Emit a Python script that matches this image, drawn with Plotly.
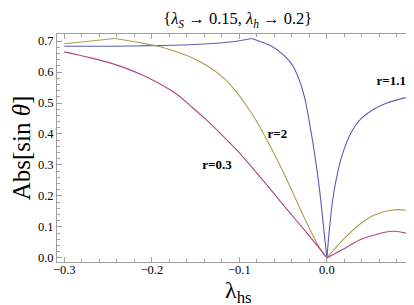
import plotly.graph_objects as go

# r = 1.1 (blue)
x_r11 = [-0.3, -0.25, -0.195, -0.1355, -0.1013, -0.086,
         -0.0632, -0.048, -0.0385, -0.0308, -0.0251, -0.0194, -0.0137, -0.008, -0.0023, 0.0,
         0.003, 0.0068, 0.0126, 0.0183, 0.0277, 0.0372, 0.0525, 0.0677, 0.0868, 0.1]
y_r11 = [0.683, 0.683, 0.685, 0.691, 0.700, 0.708,
         0.683, 0.651, 0.618, 0.568, 0.513, 0.428, 0.330, 0.21, 0.059, 0.0,
         0.097, 0.192, 0.28, 0.340, 0.405, 0.444, 0.478, 0.499, 0.515, 0.522]
kinks_r11 = [-0.086, 0.0]

# r = 2 (gold)
x_r2 = [-0.3, -0.242, -0.2116, -0.1926, -0.1735, -0.1546, -0.1355, -0.1164, -0.1013, -0.0898,
        -0.0822, -0.0632, -0.0442, -0.0251, -0.0099, 0.0,
        0.0183, 0.0372, 0.0563, 0.0753, 0.0905, 0.1]
y_r2 = [0.691, 0.708, 0.6935, 0.683, 0.667, 0.647, 0.618, 0.577, 0.528, 0.483,
        0.450, 0.352, 0.243, 0.125, 0.040, 0.0,
        0.058, 0.108, 0.141, 0.155, 0.154, 0.148]
kinks_r2 = [-0.242, 0.0]

# r = 0.3 (magenta)
x_r03 = [-0.3, -0.2497, -0.2116, -0.1735, -0.1546, -0.1355, -0.1203, -0.1013, -0.0822, -0.0632,
         -0.0442, -0.0251, -0.0099, 0.0,
         0.0183, 0.0372, 0.0563, 0.0753, 0.0905, 0.1]
y_r03 = [0.665, 0.631, 0.591, 0.532, 0.488, 0.440, 0.398, 0.343, 0.281, 0.217,
         0.152, 0.088, 0.036, 0.0,
         0.028, 0.058, 0.076, 0.086, 0.080, 0.070]
kinks_r03 = [0.0]

labels = ["r=1.1", "r=2", "r=0.3"]
label_x = [0.0735, -0.0565, -0.1255]
label_y = [0.568, 0.397, 0.298]

colors = ["#5c5cb6", "#ab9d50", "#ad4683"]

fig = go.Figure()


def segments(xs, ys, kinks):
    segs = []
    cur_x, cur_y = [], []
    for xv, yv in zip(xs, ys):
        cur_x.append(xv)
        cur_y.append(yv)
        if xv in kinks and len(cur_x) > 1:
            segs.append((cur_x, cur_y))
            cur_x, cur_y = [xv], [yv]
    if len(cur_x) > 1:
        segs.append((cur_x, cur_y))
    return segs


for xs, ys, kinks, c in [(x_r11, y_r11, kinks_r11, colors[0]),
                         (x_r2, y_r2, kinks_r2, colors[1]),
                         (x_r03, y_r03, kinks_r03, colors[2])]:
    for sx, sy in segments(xs, ys, kinks):
        fig.add_trace(go.Scatter(x=sx, y=sy, mode="lines",
                                 line=dict(color=c, width=1.1, shape="spline", smoothing=0.8),
                                 showlegend=False, hoverinfo="skip"))

# curve labels as a text trace
fig.add_trace(go.Scatter(x=label_x, y=label_y, mode="text", text=labels,
                         textposition="middle center", cliponaxis=False,
                         textfont=dict(family="Liberation Serif", size=13, color="black", weight="bold"),
                         showlegend=False, hoverinfo="skip"))

axis_common = dict(
    showgrid=False, zeroline=False, showline=True, linecolor="#a0a0a0", linewidth=1,
    mirror="ticks", ticks="inside", tickcolor="#a0a0a0", ticklen=5, tickwidth=1,
    tickfont=dict(family="Liberation Serif", size=12.5, color="black"),
)

fig.update_xaxes(range=[-0.3083, 0.1029], tickmode="array",
                 tickvals=[-0.3, -0.2, -0.1, 0.0, 0.1],
                 ticktext=["\u22120.3", "\u22120.2", "\u22120.1", "0.0", "0.1"],
                 minor=dict(dtick=0.02, tick0=0, ticks="inside", ticklen=3, tickcolor="#a0a0a0"),
                 ticklabelstandoff=-4,
                 **axis_common)
fig.update_yaxes(range=[-0.013, 0.7226], tickmode="array",
                 tickvals=[0.0, 0.1, 0.2, 0.3, 0.4, 0.5, 0.6, 0.7],
                 ticktext=["0.0", "0.1", "0.2", "0.3", "0.4", "0.5", "0.6", "0.7"],
                 minor=dict(dtick=0.02, tick0=0, ticks="inside", ticklen=3, tickcolor="#a0a0a0"),
                 title=dict(text="Abs[sin <i>\u03b8</i>]",
                            font=dict(family="Liberation Serif", size=25, color="black"), standoff=3),
                 **axis_common)

# x-axis title placed as a paper annotation
fig.add_annotation(x=0.505, y=-0.13, xref="paper", yref="paper", xanchor="center", yanchor="middle",
                   text="\u03bb<sub>hs</sub>", showarrow=False,
                   font=dict(family="Liberation Serif", size=24, color="black"))

fig.update_layout(
    width=414, height=305,
    margin=dict(l=49, r=5, t=26, b=51),
    paper_bgcolor="white", plot_bgcolor="white",
    title=dict(text="{<i>\u03bb</i><sub><i>S</i></sub> \u2192 0.15, <i>\u03bb</i><sub><i>h</i></sub> \u2192 0.2}",
               x=0.555, xanchor="center", y=0.985, yanchor="top",
               font=dict(family="Liberation Serif", size=16.5, color="black")),
)

fig.write_html("out.html")
